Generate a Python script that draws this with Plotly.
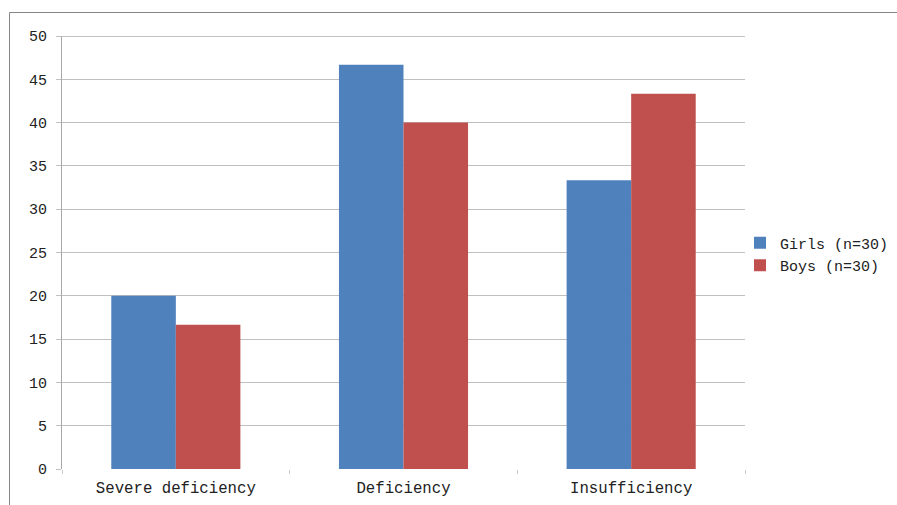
import plotly.graph_objects as go

categories = ["Severe deficiency", "Deficiency", "Insufficiency"]
girls = [20.0, 46.67, 33.33]
boys = [16.67, 40.0, 43.33]
y_ticks = [0, 5, 10, 15, 20, 25, 30, 35, 40, 45, 50]

FONT = "Liberation Mono"
PL, PR, PT, PB = 62, 745, 36, 469
W, H = 897, 505
pw, ph = PR - PL, PB - PT

fig = go.Figure()
fig.add_trace(go.Bar(name="Girls (n=30)", x=categories, y=girls,
                     marker=dict(color="#4F81BD", line=dict(width=0))))
fig.add_trace(go.Bar(name="Boys (n=30)", x=categories, y=boys,
                     marker=dict(color="#C0504D", line=dict(width=0))))

fig.update_layout(
    width=W, height=H,
    margin=dict(l=PL, r=W - PR, t=PT, b=H - PB, autoexpand=False),
    paper_bgcolor="white", plot_bgcolor="white",
    barmode="group", bargap=0.433, bargroupgap=0,
    font=dict(family=FONT, size=15, color="#222222"),
    legend=dict(x=(740 - PL) / pw, y=(PB - 254) / ph, xanchor="left", yanchor="middle",
                font=dict(family=FONT, size=15, color="#222222"),
                itemwidth=30, tracegroupgap=0, bgcolor="rgba(0,0,0,0)"),
    showlegend=True,
)
fig.update_xaxes(
    showgrid=False, showline=False, zeroline=False,
    ticks="outside", tickson="boundaries", ticklen=4, tickcolor="#c8c8c8",
    tickfont=dict(family=FONT, size=15.7, color="#222222"),
    ticklabelstandoff=7,
)
fig.update_yaxes(
    range=[0, 50], tickvals=y_ticks, showgrid=True, gridcolor="#c0c0c0", gridwidth=1,
    showline=True, linecolor="#a8a8a8", linewidth=1, zeroline=False,
    ticks="outside", ticklen=5, tickcolor="#c0c0c0",
    tickfont=dict(family=FONT, size=15, color="#222222"),
    ticklabelstandoff=6,
)
# darker top gridline
fig.add_shape(type="line", xref="paper", yref="y", x0=0, x1=1, y0=50, y1=50,
              line=dict(color="#888888", width=1))
# chart border
fig.add_shape(type="rect", xref="paper", yref="paper",
              x0=(9.5 - PL) / pw, x1=(900 - PL) / pw,
              y0=(PB - 508) / ph, y1=(PB - 12.5) / ph,
              line=dict(color="#868686", width=1), fillcolor="rgba(0,0,0,0)",
              layer="below")

fig.write_html("out.html")
